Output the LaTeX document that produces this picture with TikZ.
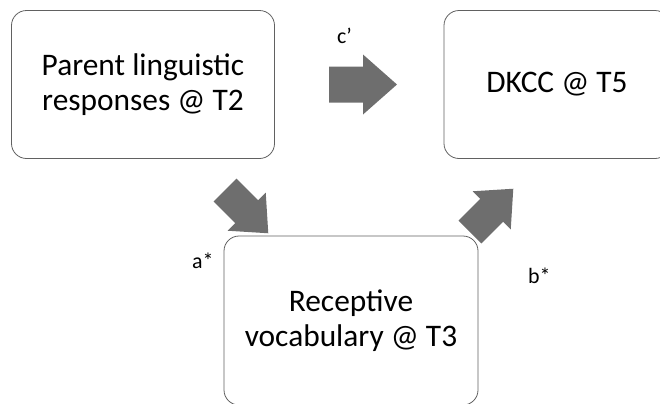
\documentclass[tikz,border=0pt]{standalone}
\usepackage{fontspec}
\setmainfont{Carlito}

\def\ArrowFill{black!57}
\def\BoxDraw{black!62}

\begin{document}
\begin{tikzpicture}[x=1bp,y=-1bp,
  caja/.style={draw=\BoxDraw, line width=0.8bp, rounded corners=15bp,
    align=center, inner sep=0pt, font=\fontsize{31.5}{35}\selectfont},
  etiqueta/.style={anchor=base west, inner sep=0pt, font=\fontsize{22}{26}\selectfont},
  flecha/.pic={\fill[\ArrowFill] (0,-18) -- (34,-18) -- (34,-30) -- (68,0)
    -- (34,30) -- (34,18) -- (0,18) -- cycle;}]
  \clip (0,0) rectangle (660,403);

  % --- Cajas ---
  \node[caja, minimum width=263bp, minimum height=148bp] (padres) at (143,84.5)
    {Parent linguistic\\responses @ T2};
  \node[caja, minimum width=226bp, minimum height=148bp] (dkcc) at (557,84.5)
    {DKCC @ T5};
  \node[caja, minimum width=254bp, minimum height=169bp] (vocab) at (351,320.5)
    {Receptive\\vocabulary @ T3};

  % --- Flechas ---
  \pic at (329,84.5) {flecha};
  \pic[rotate=-45, scale=0.9] at (225,190) {flecha};
  \pic[rotate=45, scale=0.9] at (470,232) {flecha};

  % --- Etiquetas ---
  \node[etiqueta] (lc) at (337,43) {c’};
  \node[etiqueta] (la) at (192,268) {a*};
  \node[etiqueta] (lb) at (528,283) {b*};
\end{tikzpicture}
\end{document}
